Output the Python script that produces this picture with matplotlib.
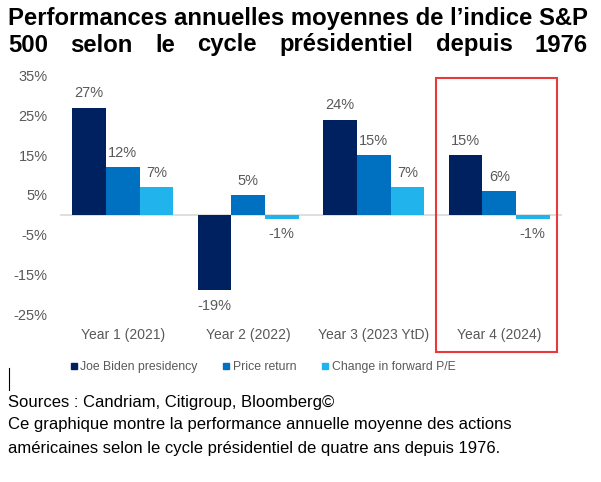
import matplotlib
matplotlib.use("Agg")
import matplotlib.pyplot as plt
import numpy as np
from matplotlib.patches import Rectangle
from matplotlib.lines import Line2D

plt.rcParams['font.family'] = ['Liberation Sans', 'DejaVu Sans']

# donnees
categories = ["Year 1 (2021)", "Year 2 (2022)", "Year 3 (2023 YtD)", "Year 4 (2024)"]
series_names = ["Joe Biden presidency", "Price return", "Change in forward P/E"]
biden = [27, -19, 24, 15]
price_return = [12, 5, 15, 6]
change_pe = [7, -1, 7, -1]
yticks = [-25, -15, -5, 5, 15, 25, 35]

colors = ["#00215f", "#0070c0", "#21b4ec"]
gray = "#595959"

fig = plt.figure(figsize=(6.01, 4.82), dpi=100)
W, H = 601, 482
ax = fig.add_axes([60 / W, 1 - 322 / H, (562 - 60) / W, (322 - 68) / H])

x = np.arange(len(categories))
bw = 0.267
for i, (vals, c) in enumerate(zip([biden, price_return, change_pe], colors)):
    pos = x + (i - 1) * bw
    ax.bar(pos, vals, bw, color=c, label=series_names[i], zorder=3)
    for p, v in zip(pos, vals):
        off = 3.6 if v >= 0 else -3.9
        ax.text(p, v + off, f"{v}%", ha="center", va="center", fontsize=10.5, color=gray)

ax.axhline(0, color="#d9d9d9", lw=1.2, zorder=2)
ax.set_xlim(-0.5, 3.5)
ax.set_ylim(-27, 37)
ax.set_yticks(yticks)
ax.set_yticklabels([f"{t}%" for t in yticks], fontsize=10.5, color=gray)
ax.set_xticks(x)
ax.set_xticklabels(categories, fontsize=10, color=gray)
ax.tick_params(length=0, axis="y", pad=9)
ax.tick_params(length=0, axis="x", pad=4)
for s in ax.spines.values():
    s.set_visible(False)

# legende
handles = [Line2D([], [], marker="s", ls="", color=c, markersize=5) for c in colors]
fig.legend(handles, series_names, loc="center", bbox_to_anchor=(262 / W, 1 - 367 / H),
           ncol=3, frameon=False, fontsize=8.8, labelcolor=gray, handletextpad=0.1,
           columnspacing=2.0, handlelength=0.8)

# cadre rouge autour de l'annee 4
fig.patches.append(Rectangle((436 / W, 1 - 352 / H), (557 - 436) / W, (352 - 78) / H,
                             transform=fig.transFigure, fill=False, ec="#e8393b", lw=1.5))

# curseur
fig.add_artist(Line2D([9 / W, 9 / W], [1 - 368 / H, 1 - 390 / H], color="black", lw=0.8))

# titre justifie
line1 = "Performances annuelles moyennes de l\u2019indice S&P"
line2 = "500 selon le cycle présidentiel depuis 1976"
left, right = 8, 588
r = fig.canvas.get_renderer()
probe = fig.text(0, 0, line1, fontsize=10, fontweight="bold")
tsize = 10 * (right - left) / probe.get_window_extent(r).width
probe.remove()
fig.text(left / W, 1 - 18 / H, line1, fontsize=tsize, fontweight="bold", va="center", ha="left")
words = line2.split()
tmp = [fig.text(0, 0, w, fontsize=tsize, fontweight="bold") for w in words]
widths = [t.get_window_extent(r).width for t in tmp]
for t in tmp:
    t.remove()
gap = (right - left - sum(widths)) / (len(words) - 1)
xp = left
for w, wd in zip(words, widths):
    fig.text(xp / W, 1 - 45 / H, w, fontsize=tsize, fontweight="bold", va="center", ha="left")
    xp += wd + gap

# notes
fig.text(8 / W, 1 - 402 / H, "Sources : Candriam, Citigroup, Bloomberg©", fontsize=12, va="center")
fig.text(8 / W, 1 - 425 / H, "Ce graphique montre la performance annuelle moyenne des actions", fontsize=12, va="center")
fig.text(8 / W, 1 - 448 / H, "américaines selon le cycle présidentiel de quatre ans depuis 1976.", fontsize=12, va="center")

fig.savefig("out.png", dpi=100)
